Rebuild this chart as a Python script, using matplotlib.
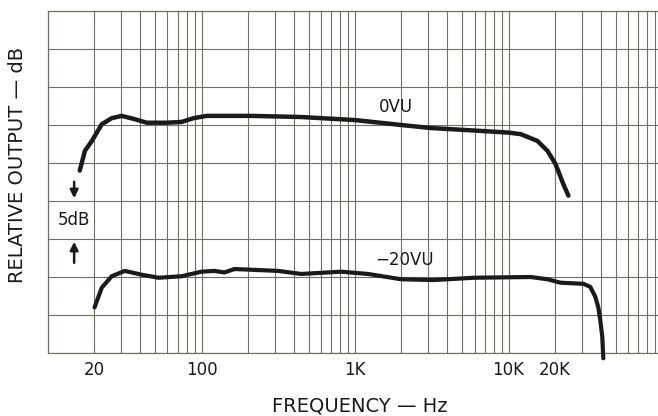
import matplotlib
matplotlib.use("Agg")
import matplotlib.pyplot as plt

# response at 0 VU (Hz, dB)
freq_0vu = [16.1, 17.4, 19.3, 22.4, 26.0, 30.2, 36.2, 44.0, 59.3, 74.1, 88.7, 108,
            211, 446, 1000, 2000, 3120, 5670, 10000, 11970, 15420, 17910, 20180,
            22750, 24530]
db_0vu = [-6.0, -3.4, -2.1, 0.1, 0.9, 1.2, 0.8, 0.3, 0.3, 0.4, 0.9, 1.2,
          1.2, 1.05, 0.65, 0.0, -0.4, -0.7, -1.0, -1.2, -2.1, -3.4, -5.1,
          -7.8, -9.3]

# response at -20 VU (Hz, dB)
freq_20vu = [20.1, 22.4, 26.0, 31.6, 40.8, 52.6, 74.1, 100, 121, 141, 164, 316,
             446, 811, 1214, 2000, 3260, 5930, 13900, 17910, 21770, 30700,
             34050, 36700, 38400, 39550, 40740, 41400]
db_20vu = [-24.0, -21.4, -19.9, -19.2, -19.7, -20.1, -19.9, -19.3, -19.2, -19.4,
           -18.95, -19.2, -19.6, -19.3, -19.6, -20.3, -20.4, -20.1, -20.0, -20.3,
           -20.75, -20.9, -21.3, -22.6, -24.0, -25.7, -27.8, -30.7]

tick_freqs = [20, 100, 1000, 10000, 20000]
tick_labels = ["20", "100", "1K", "10K", "20K"]

ink = "#1a1a1a"
grid_col = "#707062"

fig = plt.figure(figsize=(6.58, 4.16), dpi=100)
ax = fig.add_axes([48 / 658, 63 / 416, 610 / 658, 342 / 416])

ax.set_xscale("log")
ax.set_xlim(10.3, 94000)
ax.set_ylim(-30, 15)

# --------------------
# grid (log paper)
# --------------------
grid_freqs = [m * 10 ** d for d in range(1, 5) for m in range(1, 10)]
ax.set_xticks(grid_freqs, minor=True)
ax.set_xticks(tick_freqs, tick_labels)
ax.set_yticks(range(-30, 16, 5))
ax.set_yticklabels([])
ax.grid(which="both", color=grid_col, linewidth=0.8)
ax.tick_params(which="both", length=0, labelsize=12, pad=6, colors=ink)
ax.tick_params(axis="x", which="minor", labelbottom=False)

for side in ["left", "bottom", "top"]:
    ax.spines[side].set_color(grid_col)
    ax.spines[side].set_linewidth(0.9)
ax.spines["right"].set_visible(False)

# --------------------
# curves
# --------------------
ax.plot(freq_0vu, db_0vu, color=ink, linewidth=3.2, solid_capstyle="round",
        solid_joinstyle="round", zorder=3)
ax.plot(freq_20vu, db_20vu, color=ink, linewidth=3.0, solid_capstyle="round",
        solid_joinstyle="round", zorder=3, clip_on=False)

ax.text(1840, 2.4, "0VU", fontsize=12, color=ink, ha="center", va="center")
ax.text(2100, -17.8, "\u221220VU", fontsize=12, color=ink, ha="center", va="center")

# --------------------
# 5 dB scale marker
# --------------------
ax.text(14.8, -12.5, "5dB", fontsize=12, color=ink, ha="center", va="center")
ax.annotate("", xy=(14.8, -10), xytext=(14.8, -7.1),
            arrowprops=dict(arrowstyle="-|>", color=ink, lw=1.8, mutation_scale=12))
ax.annotate("", xy=(14.8, -15), xytext=(14.8, -18.5),
            arrowprops=dict(arrowstyle="-|>", color=ink, lw=1.8, mutation_scale=12))

# --------------------
# axis titles
# --------------------
fig.text(360 / 658, 1 - 406 / 416, "FREQUENCY \u2014 Hz", fontsize=14, color=ink,
         ha="center", va="center")
fig.text(18 / 658, 1 - 165 / 416, "RELATIVE OUTPUT \u2014 dB", fontsize=14, color=ink,
         ha="center", va="center", rotation=90)

fig.savefig("out.png", dpi=100)
